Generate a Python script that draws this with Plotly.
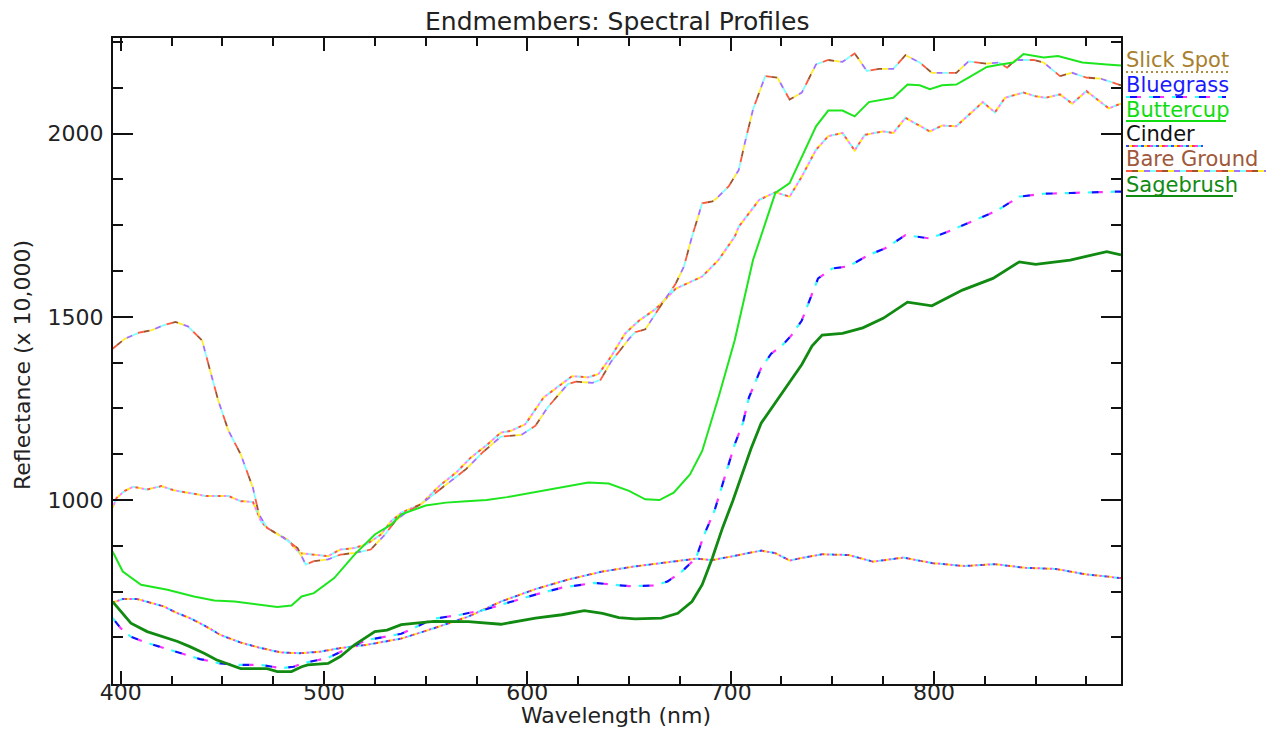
import plotly.graph_objects as go

# ---------------- data ----------------
bare_wl = [396, 402, 409, 415, 421, 427, 433, 440, 444, 448, 453, 459, 465, 468, 472, 480, 487, 491, 495, 502,
           508, 515, 523, 530, 535, 540, 548, 555, 562, 570, 578, 587, 597, 604, 610, 620, 624, 632, 636, 641,
           650, 653, 658, 663, 668, 673, 677, 681, 686, 691, 693, 699, 704, 707, 711, 717, 723, 729, 735, 742,
           748, 755, 761, 767, 773, 780, 786, 793, 799, 811, 817, 826, 832, 836, 840, 849, 854, 862, 868, 875,
           882, 892]
bare_val = [1413, 1440, 1457, 1463, 1477, 1486, 1474, 1436, 1353, 1271, 1189, 1125, 1034, 961, 924, 897, 869, 824, 833, 838,
            851, 856, 865, 906, 942, 965, 990, 1020, 1050, 1085, 1130, 1173, 1178, 1203, 1253, 1317, 1323, 1320, 1328, 1376,
            1440, 1458, 1466, 1509, 1550, 1591, 1637, 1719, 1810, 1815, 1823, 1856, 1901, 1975, 2066, 2157, 2153, 2093, 2112, 2189,
            2201, 2196, 2219, 2171, 2177, 2177, 2214, 2194, 2166, 2166, 2197, 2191, 2194, 2180, 2201, 2201, 2194, 2157, 2166, 2153,
            2150, 2132]

slick_wl = [396, 398, 402, 406, 413, 420, 426, 434, 442, 453, 459, 465, 469, 472, 482, 488, 495, 502, 508, 515,
            521, 528, 533, 538, 548, 557, 565, 572, 580, 587, 592, 599, 608, 615, 622, 630, 635, 641, 648, 655,
            663, 673, 686, 694, 702, 704, 714, 722, 729, 735, 742, 748, 755, 761, 766, 775, 780, 786, 798, 804,
            811, 824, 830, 835, 844, 850, 855, 862, 868, 875, 886, 892]
slick_val = [979, 1006, 1025, 1036, 1029, 1038, 1027, 1020, 1011, 1011, 997, 995, 942, 924, 892, 855, 851, 847, 865, 869,
             880, 906, 942, 965, 990, 1040, 1075, 1115, 1150, 1184, 1189, 1207, 1280, 1308, 1338, 1335, 1344, 1390, 1454, 1490,
             1521, 1577, 1610, 1655, 1719, 1746, 1819, 1840, 1828, 1883, 1956, 1993, 2002, 1954, 1997, 2006, 2002, 2043, 2006, 2022,
             2020, 2086, 2058, 2098, 2112, 2102, 2098, 2107, 2082, 2116, 2069, 2082]

butter_wl = [396, 401, 410, 423, 436, 446, 456, 465, 477, 484, 489, 495, 505, 515, 525, 533, 538, 550, 560, 570,
             580, 590, 600, 610, 620, 630, 640, 650, 658, 665, 672, 680, 686, 694, 702, 711, 717, 722, 729, 735,
             742, 748, 755, 761, 768, 780, 787, 793, 798, 804, 811, 817, 826, 832, 839, 844, 854, 861, 867, 873,
             885, 892]
butter_val = [860, 805, 769, 755, 737, 726, 723, 716, 708, 712, 737, 746, 787, 851, 906, 933, 961, 985, 993, 997,
              1000, 1008, 1018, 1028, 1038, 1048, 1045, 1025, 1002, 1000, 1020, 1070, 1134, 1280, 1436, 1655, 1755, 1838, 1865, 1938,
              2020, 2063, 2063, 2047, 2086, 2098, 2134, 2132, 2121, 2132, 2134, 2153, 2182, 2188, 2194, 2217, 2208, 2212, 2203, 2194,
              2189, 2186]

cinder_wl = [396, 401, 408, 415, 421, 428, 434, 441, 449, 459, 469, 479, 488, 498, 508, 521, 538, 554, 571, 587,
             604, 620, 637, 653, 669, 683, 691, 702, 715, 722, 729, 735, 745, 758, 770, 785, 799, 815, 830, 845,
             860, 875, 892]
cinder_val = [720, 730, 730, 719, 710, 691, 678, 658, 632, 611, 596, 584, 582, 586, 596, 605, 622, 650, 682, 723,
              757, 783, 805, 819, 831, 840, 836, 847, 862, 855, 835, 842, 852, 850, 832, 843, 828, 820, 825, 815,
              812, 797, 787]

blue_wl = [396, 400, 405, 411, 419, 429, 439, 449, 459, 469, 479, 485, 489, 502, 512, 521, 538, 554, 567, 579,
           590, 604, 617, 633, 650, 663, 669, 676, 683, 687, 692, 697, 702, 706, 709, 715, 720, 725, 730, 735,
           740, 743, 750, 758, 768, 776, 786, 798, 808, 819, 831, 842, 854, 867, 880, 892]
blue_val = [678, 650, 627, 614, 600, 582, 566, 554, 550, 550, 541, 545, 554, 569, 596, 618, 635, 676, 687, 701,
            719, 742, 761, 774, 765, 767, 778, 805, 842, 906, 970, 1060, 1152, 1210, 1280, 1360, 1400, 1420, 1450, 1490,
            1560, 1605, 1632, 1638, 1669, 1687, 1723, 1714, 1735, 1762, 1790, 1828, 1836, 1838, 1840, 1842]

sage_wl = [396, 400, 405, 413, 419, 428, 434, 441, 447, 452, 459, 472, 477, 484, 489, 492, 502, 508, 515, 525,
           531, 538, 554, 571, 587, 604, 617, 628, 637, 645, 653, 666, 674, 681, 686, 691, 696, 701, 705, 710,
           715, 720, 725, 730, 735, 740, 745, 755, 765, 775, 787, 799, 814, 829, 842, 850, 867, 885, 892]
sage_val = [723, 696, 664, 641, 630, 614, 600, 582, 564, 554, 540, 540, 532, 532, 545, 550, 554, 573, 605, 641,
            645, 660, 669, 668, 661, 678, 687, 698, 691, 679, 676, 678, 691, 723, 769, 842, 924, 997, 1060, 1140,
            1210, 1250, 1290, 1330, 1370, 1420, 1450, 1455, 1470, 1496, 1540, 1530, 1573, 1605, 1650, 1643, 1655, 1678, 1669]

legend_names = ["Slick Spot", "Bluegrass", "Buttercup", "Cinder", "Bare Ground", "Sagebrush"]
legend_colors = ["#a8802e", "#1a1aff", "#10dd10", "#111111", "#a0583a", "#118a11"]

x_range = [396.2, 892]
y_range = [498, 2261]
x_ticks = [400, 500, 600, 700, 800]
y_ticks = [1000, 1500, 2000]

# ---------------- helpers ----------------
def multicolor(fig, x, y, segs, gap=0, width=2.0):
    """Overlay dashed traces so that the line cycles through colours."""
    period = sum(s for _, s in segs) + gap
    off = 0
    for col, L in segs:
        rest = period - off - L
        if off == 0:
            dash = f"{L}px,{rest}px"
        else:
            dash = f"0px,{off}px,{L}px,{rest}px"
        fig.add_trace(go.Scatter(x=x, y=y, mode="lines",
                                 line=dict(color=col, width=width, dash=dash),
                                 hoverinfo="skip", showlegend=False))
        off += L


fig = go.Figure()

multicolor(fig, cinder_wl, cinder_val,
           [("#ff4040", 2.5), ("#ffee00", 2.5), ("#ff40ff", 2.5), ("#40ffff", 2.5), ("#4040ff", 2.5)], width=2)
multicolor(fig, slick_wl, slick_val,
           [("#ffee00", 3), ("#ff80ff", 3), ("#70ffff", 3), ("#ff5050", 3)], width=2)
multicolor(fig, bare_wl, bare_val,
           [("#ff5a3c", 6), ("#a0522d", 6), ("#ffee30", 6), ("#a070ff", 6), ("#80ffff", 6)], width=1.8)
fig.add_trace(go.Scatter(x=butter_wl, y=butter_val, mode="lines",
                         line=dict(color="#1ee61e", width=2), hoverinfo="skip", showlegend=False))
multicolor(fig, blue_wl, blue_val,
           [("#30ffff", 4), ("#1010ff", 7), ("#ff30ff", 4)], gap=8, width=2.2)
fig.add_trace(go.Scatter(x=sage_wl, y=sage_val, mode="lines",
                         line=dict(color="#118a11", width=2.8), hoverinfo="skip", showlegend=False))

# ---------------- layout ----------------
# the page body adds an 8px margin, so the figure is shifted by OFF
OFF = 8
W, H = 1274 - OFF, 731 - OFF
PL, PR, PT, PB = 113, 1121, 38, 684          # wanted plot box in page pixels
L, R, T, B = PL - OFF, W - (PR - OFF), PT - OFF, H - (PB - OFF)
pw, ph = W - L - R, H - T - B

def px(xp):
    return (xp - PL) / pw

def py(yp):
    return (PB - yp) / ph

font_family = "DejaVu Sans"
axis_common = dict(showline=True, linecolor="#111111", linewidth=2, mirror="ticks",
                   ticks="inside", tickcolor="#111111", tickwidth=2,
                   showgrid=False, zeroline=False,
                   tickfont=dict(family=font_family, size=22, color="#222222"))

fig.update_layout(
    width=W, height=H,
    margin=dict(l=L, r=R, t=T, b=B, autoexpand=False),
    paper_bgcolor="white", plot_bgcolor="white",
    showlegend=False,
    xaxis=dict(range=x_range, tickmode="array", tickvals=x_ticks, ticklen=13,
               minor=dict(tick0=0, dtick=25, ticklen=8, ticks="inside", tickcolor="#111111", tickwidth=2),
               ticklabelstandoff=-12, **axis_common),
    yaxis=dict(range=y_range, tickmode="array", tickvals=y_ticks, ticklen=20,
               minor=dict(tick0=0, dtick=125, ticklen=10, ticks="inside", tickcolor="#111111", tickwidth=2),
               ticklabelstandoff=3, **axis_common),
)

annotations = [
    dict(text="Endmembers: Spectral Profiles", x=px(617), y=py(22), xref="paper", yref="paper",
         showarrow=False, xanchor="center", yanchor="middle",
         font=dict(family=font_family, size=25, color="#222222")),
    dict(text="Wavelength (nm)", x=px(616), y=py(716), xref="paper", yref="paper",
         showarrow=False, xanchor="center", yanchor="middle",
         font=dict(family=font_family, size=22, color="#222222")),
    dict(text="Reflectance (x 10,000)", x=px(22), y=py(365), xref="paper", yref="paper",
         showarrow=False, xanchor="center", yanchor="middle", textangle=-90,
         font=dict(family=font_family, size=22, color="#222222")),
]

text_y = [60, 85, 110, 134, 159, 185]
line_y = [72, 97, 121, 146, 171, 196]
line_x1 = [1229, 1226, 1226, 1203, 1267, 1233]
for name, col, ty in zip(legend_names, legend_colors, text_y):
    annotations.append(dict(text=name, x=px(1124), y=py(ty), xref="paper", yref="paper",
                            showarrow=False, xanchor="left", yanchor="middle",
                            font=dict(family=font_family, size=21, color=col)))
fig.update_layout(annotations=annotations)

def sample(y_px, x1_px, segs, gap=0, width=2):
    period = sum(s for _, s in segs) + gap
    off = 0
    for col, Ls in segs:
        rest = period - off - Ls
        dash = f"{Ls}px,{rest}px" if off == 0 else f"0px,{off}px,{Ls}px,{rest}px"
        fig.add_shape(type="line", xref="paper", yref="paper",
                      x0=px(1126), x1=px(x1_px), y0=py(y_px), y1=py(y_px),
                      line=dict(color=col, width=width, dash=dash))
        off += Ls

sample(line_y[0], line_x1[0], [("#b08a40", 2)], gap=3)
sample(line_y[1], line_x1[1], [("#30ffff", 4), ("#1010ff", 7), ("#ff30ff", 4)], gap=8)
sample(line_y[2], line_x1[2], [("#10dd10", 10)])
sample(line_y[3], line_x1[3], [("#4040ff", 3), ("#ffee00", 3), ("#ff4040", 3), ("#ff40ff", 3), ("#40ffff", 3)])
sample(line_y[4], line_x1[4], [("#ff5a3c", 6), ("#a0522d", 6), ("#ffee30", 6), ("#a070ff", 6), ("#80ffff", 6)])
sample(line_y[5], line_x1[5], [("#118a11", 10)])

fig.write_html("out.html")
